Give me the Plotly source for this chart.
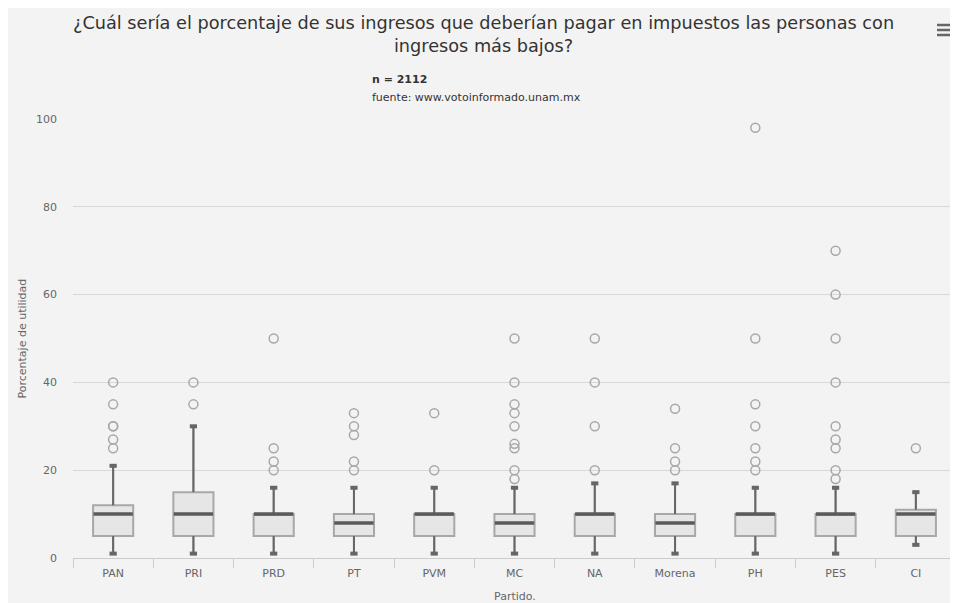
import plotly.graph_objects as go

categories = ["PAN", "PRI", "PRD", "PT", "PVM", "MC", "NA", "Morena", "PH", "PES", "CI"]
q1 = [5, 5, 5, 5, 5, 5, 5, 5, 5, 5, 5]
median = [10, 10, 10, 8, 10, 8, 10, 8, 10, 10, 10]
q3 = [12, 15, 10, 10, 10, 10, 10, 10, 10, 10, 11]
lower_fence = [1, 1, 1, 1, 1, 1, 1, 1, 1, 1, 3]
upper_fence = [21, 30, 16, 16, 16, 16, 17, 17, 16, 16, 15]
outliers = [
    [25, 27, 30, 30, 35, 40],
    [35, 40],
    [20, 22, 25, 50],
    [20, 22, 28, 30, 33],
    [20, 33],
    [18, 20, 25, 26, 30, 33, 35, 40, 50],
    [20, 30, 40, 50],
    [20, 22, 25, 34],
    [20, 22, 25, 30, 35, 50, 98],
    [18, 20, 25, 27, 30, 40, 50, 60, 70],
    [25],
]
y_ticks = [0, 20, 40, 60, 80, 100]

title_text = "¿Cuál sería el porcentaje de sus ingresos que deberían pagar en impuestos las personas con<br>ingresos más bajos?"
subtitle_n = "<b>n = 2112</b>"
subtitle_src = "fuente: www.votoinformado.unam.mx"
y_title = "Porcentaje de utilidad"
x_title = "Partido."

FONT = "DejaVu Sans, Verdana, sans-serif"
BG = "#f3f3f3"
n = len(categories)

fig = go.Figure()

# Boxes (light outline)
fig.add_trace(go.Box(
    x=categories, q1=q1, median=median, q3=q3,
    lowerfence=lower_fence, upperfence=upper_fence,
    boxpoints=False, width=0.5, whiskerwidth=0,
    fillcolor="#e6e6e6", line=dict(color="#a8a8a8", width=2),
    showlegend=False, hoverinfo="skip",
))

# Whiskers (dark) on an overlaying numeric axis
wx, wy = [], []
for i in range(n):
    wx += [i, i, None, i, i, None]
    wy += [q3[i], upper_fence[i], None, q1[i], lower_fence[i], None]
fig.add_trace(go.Scatter(x=wx, y=wy, mode="lines", xaxis="x2",
                         line=dict(color="#666666", width=2),
                         showlegend=False, hoverinfo="skip"))

# Whisker caps
cx, cy = [], []
for i in range(n):
    for v in (upper_fence[i], lower_fence[i]):
        cx += [i - 0.045, i + 0.045, None]
        cy += [v, v, None]
fig.add_trace(go.Scatter(x=cx, y=cy, mode="lines", xaxis="x2",
                         line=dict(color="#666666", width=4),
                         showlegend=False, hoverinfo="skip"))

# Medians
mx, my = [], []
for i in range(n):
    mx += [i - 0.245, i + 0.245, None]
    my += [median[i], median[i], None]
fig.add_trace(go.Scatter(x=mx, y=my, mode="lines", xaxis="x2",
                         line=dict(color="#5a5a5a", width=3.5),
                         showlegend=False, hoverinfo="skip"))

# Outliers
ox, oy = [], []
for cat, vals in zip(categories, outliers):
    ox += [cat] * len(vals)
    oy += vals
fig.add_trace(go.Scatter(x=ox, y=oy, mode="markers",
                         marker=dict(symbol="circle-open", size=9, color="#a8a8a8",
                                     line=dict(width=1.5)),
                         cliponaxis=False, showlegend=False, hoverinfo="skip"))

# figure pixel geometry (page adds an 8px body margin)
L, R, T, B = 65, 10, 111, 53
W, H = 958, 603
plot_w = W - L - R
plot_h = H - T - B
bottom = H - B


def px(xp):
    return (xp - L) / plot_w


def py(yp):
    return (bottom - yp) / plot_h


fig.update_layout(
    width=W, height=H,
    margin=dict(l=L, r=R, t=T, b=B),
    paper_bgcolor=BG, plot_bgcolor=BG,
    font=dict(family=FONT, size=11, color="#666666"),
    xaxis=dict(type="category", categoryorder="array", categoryarray=categories,
               range=[-0.5, n - 0.5], tickson="boundaries", ticks="outside",
               ticklen=9, tickcolor="#cccccc", showline=True, linecolor="#cccccc",
               linewidth=1, showgrid=False, zeroline=False, ticklabelstandoff=5,
               tickfont=dict(size=11, color="#666666")),
    xaxis2=dict(overlaying="x", range=[-0.5, n - 0.5], visible=False),
    yaxis=dict(range=[0, 100], tickvals=y_ticks, showgrid=True, gridcolor="#d8d8d8",
               gridwidth=1, zeroline=False, showline=False, ticks="",
               ticklabelstandoff=15, tickfont=dict(size=11, color="#666666")),
    annotations=[
        dict(text=title_text, xref="paper", yref="paper",
             x=px(475), y=py(26.5), xanchor="center", yanchor="middle",
             showarrow=False, font=dict(size=17.7, color="#333333", family=FONT)),
        dict(text=subtitle_n, xref="paper", yref="paper",
             x=px(362), y=py(71), xanchor="left", yanchor="middle",
             showarrow=False, font=dict(size=11, color="#333333")),
        dict(text=subtitle_src, xref="paper", yref="paper",
             x=px(362), y=py(89), xanchor="left", yanchor="middle",
             showarrow=False, font=dict(size=11, color="#333333")),
        dict(text=y_title, xref="paper", yref="paper", textangle=-90,
             x=px(14), y=0.5, xanchor="center", yanchor="middle",
             showarrow=False, font=dict(size=11, color="#666666")),
        dict(text=x_title, xref="paper", yref="paper",
             x=0.5, y=py(588), xanchor="center", yanchor="middle",
             showarrow=False, font=dict(size=11, color="#666666")),
    ],
    shapes=[
        dict(type="line", xref="paper", yref="paper",
             x0=px(929), x1=px(943), y0=py(yy), y1=py(yy),
             line=dict(color="#666666", width=2.5))
        for yy in (17, 22, 27)
    ],
)

fig.write_html("out.html")
